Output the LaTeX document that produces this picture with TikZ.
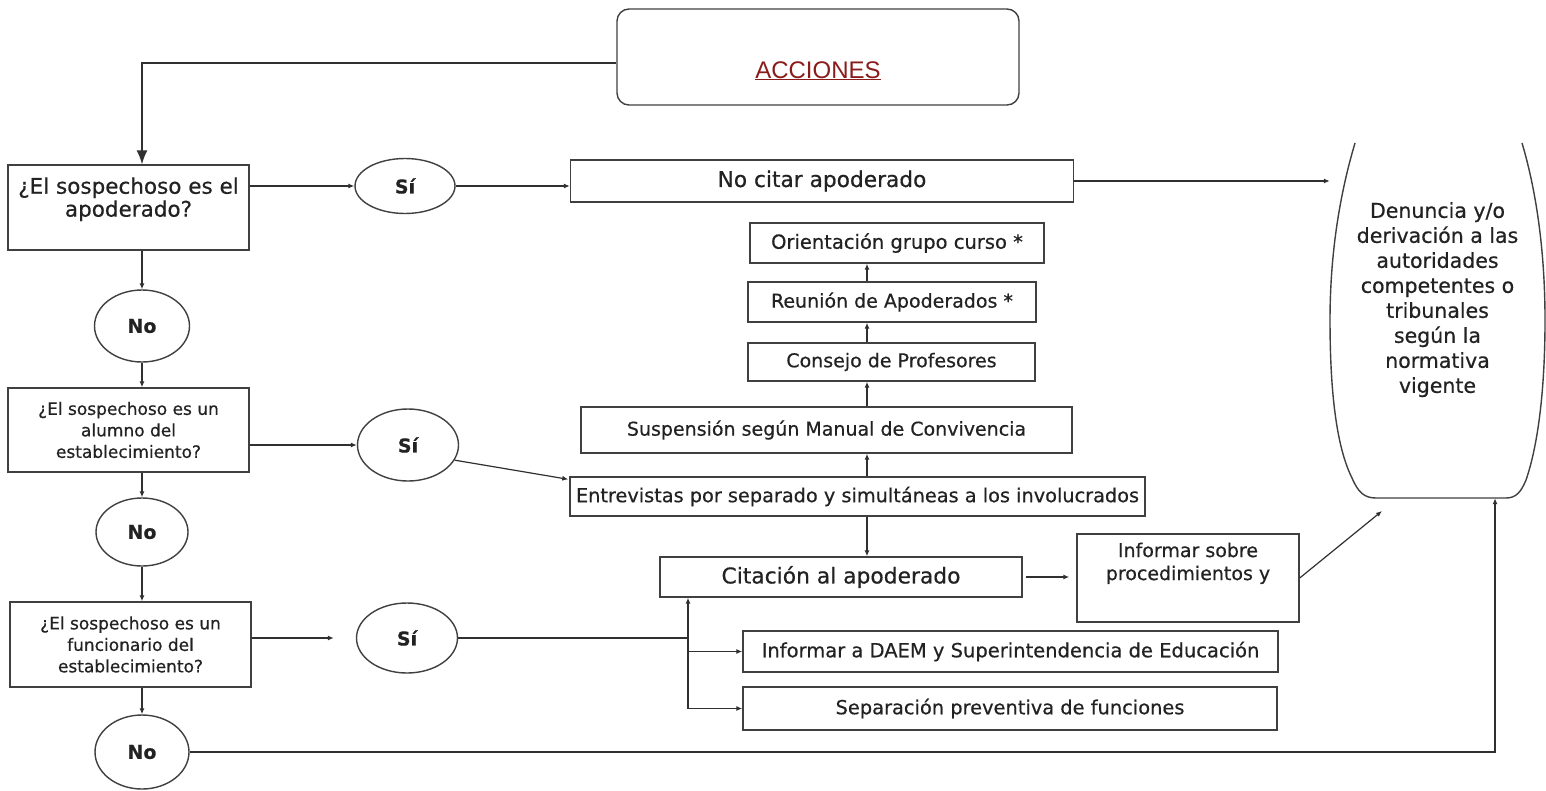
\documentclass[tikz,border=0pt]{standalone}
\usepackage{fontspec}
\setmainfont{DejaVu Sans}[FakeBold=0.5]
\newfontfamily\accfont{Liberation Sans}
\usetikzlibrary{shapes.geometric,arrows.meta,calc}
\definecolor{bcol}{HTML}{404040}
\definecolor{lcol}{HTML}{303030}
\definecolor{tcol}{HTML}{222222}
\definecolor{accred}{HTML}{8A1B1B}
\begin{document}
\begin{tikzpicture}[x=1pt,y=-1pt,
  box/.style={rectangle, draw=bcol, line width=1.4pt, inner sep=0pt, text=tcol, align=center, font=\fontsize{19}{23}\selectfont},
  oval/.style={ellipse, draw=bcol, line width=1.4pt, inner sep=0pt, text=tcol, font=\bfseries\fontsize{19}{23}\selectfont},
  arr/.style={draw=lcol, line width=1.2pt, -{Latex[length=6pt,width=5pt]}},
  ln/.style={draw=lcol, line width=1.2pt},
  bigarr/.style={draw=lcol, line width=1.4pt, -{Latex[length=14pt,width=11pt]}}]
\fill[white] (0,0) rectangle (1546,790);
\useasboundingbox (0,0) rectangle (1546,790);

\coordinate (colx) at (142,0);
\coordinate (colm) at (867,0);
\coordinate (colj) at (688,0);
\coordinate (colr) at (1495,0);
\coordinate (denin) at (1382,511);

% top
\node[box, rounded corners=12pt, minimum width=402pt, minimum height=96pt] (acc) at (818,57)
  {\raisebox{-21pt}[0pt][0pt]{\accfont\fontsize{24}{28}\selectfont\color{accred}\underline{ACCIONES}}};

% left column
\node[box, minimum width=241pt, minimum height=85pt] (q1) at (128.5,207.5)
  {\raisebox{2pt}[0pt][0pt]{\fontsize{21.5}{22}\selectfont\begin{tabular}{@{}c@{}}¿El sospechoso es el\\apoderado?\end{tabular}}};
\node[oval, minimum width=95pt, minimum height=72pt] (no1) at (142,326) {No};
\node[box, minimum width=241pt, minimum height=84pt, font=\fontsize{17}{21.5}\selectfont] (q2) at (128.5,430)
  {¿El sospechoso es un\\alumno del\\establecimiento?};
\node[oval, minimum width=92pt, minimum height=68pt] (no2) at (142,532) {No};
\node[box, minimum width=241pt, minimum height=85pt, font=\fontsize{17}{21.5}\selectfont] (q3) at (130.5,644.5)
  {¿El sospechoso es un\\funcionario del\\establecimiento?};
\node[oval, minimum width=94pt, minimum height=74pt] (no3) at (142,752) {No};

% Si ovals
\node[oval, minimum width=100pt, minimum height=55pt] (s1) at (405,186) {Sí};
\node[oval, minimum width=101pt, minimum height=72pt] (s2) at (408,445) {Sí};
\node[oval, minimum width=101pt, minimum height=70pt] (s3) at (407,638) {Sí};

% middle boxes
\node[box, minimum width=503pt, minimum height=42pt, font=\fontsize{21.7}{25}\selectfont] (nc) at (822,181) {No citar apoderado};
\node[box, minimum width=294pt, minimum height=40pt, font=\fontsize{19.5}{23}\selectfont] (ori) at (897,243) {Orientación grupo curso *};
\node[box, minimum width=288pt, minimum height=40pt] (reu) at (892,302) {Reunión de Apoderados *};
\node[box, minimum width=287pt, minimum height=38pt] (con) at (891.5,362) {Consejo de Profesores};
\node[box, minimum width=491pt, minimum height=46pt] (sus) at (826.5,430) {\raisebox{3pt}{Suspensión según Manual de Convivencia}};
\node[box, minimum width=575pt, minimum height=39pt, font=\fontsize{19.3}{23}\selectfont] (ent) at (857.5,496.5) {Entrevistas por separado y simultáneas a los involucrados};
\node[box, minimum width=362pt, minimum height=40pt, font=\fontsize{21.8}{25}\selectfont] (cit) at (841,577) {Citación al apoderado};
\node[box, minimum width=222pt, minimum height=88pt] (inf) at (1188,578)
  {\raisebox{9.75pt}[0pt][0pt]{\fontsize{19}{23}\selectfont\begin{tabular}{@{}c@{}}Informar sobre\\procedimientos y\end{tabular}}};
\node[box, minimum width=535pt, minimum height=41pt, font=\fontsize{19.5}{23}\selectfont] (daem) at (1010.5,651.5) {Informar a DAEM y Superintendencia de Educación};
\node[box, minimum width=534pt, minimum height=43pt, font=\fontsize{19.4}{23}\selectfont] (sep) at (1010,708.5) {Separación preventiva de funciones};

% right shape
\node[minimum width=215pt, minimum height=355pt, inner sep=0pt, text=tcol] (den) at (1437.5,320.5)
  {\raisebox{15pt}[0pt][0pt]{\fontsize{20.5}{25}\selectfont\begin{tabular}{@{}c@{}}Denuncia y/o\\derivación a las\\autoridades\\competentes o\\tribunales\\según la\\normativa\\vigente\end{tabular}}};
\draw[bcol, line width=1.4pt] (1355,143) .. controls (1338,200) and (1330,260) .. (1330,320)
  .. controls (1330,400) and (1338,450) .. (1352,478)
  .. controls (1358,492) and (1364,498) .. (1376,498) -- (1506,498)
  .. controls (1516,498) and (1521,492) .. (1526,480)
  .. controls (1538,445) and (1545,390) .. (1545,320)
  .. controls (1545,250) and (1536,190) .. (1522,143);

% connectors
\draw[bigarr] ([yshift=-6pt]acc.west) -| (q1.north -| colx);
\draw[arr] (q1.south -| colx) -- (no1.north);
\draw[arr] (no1.south) -- (q2.north -| colx);
\draw[arr] (q2.south -| colx) -- (no2.north);
\draw[arr] (no2.south) -- (q3.north -| colx);
\draw[arr] (q3.south -| colx) -- (no3.north);

\draw[arr] (q1.east |- s1.west) -- (s1.west);
\draw[arr] (s1.east) -- (s1.east -| nc.west);
\draw[arr] (nc.east) -- (nc.east -| den.west);

\draw[arr] (q2.east |- s2.west) -- (s2.west);
\draw[arr] (s2.-18) -- ($(ent.north west)+(-1,3)$);

\draw[arr, shorten >=22pt] (q3.east |- s3.west) -- (s3.west);
\draw[ln] (s3.east) -- (s3.east -| colj);
\draw[arr] (sep.west -| colj) -- (cit.south -| colj);
\draw[arr] (daem.west -| colj) -- (daem.west);
\draw[arr] (sep.west -| colj) -- (sep.west);

\draw[arr] (ent.north -| colm) -- (sus.south -| colm);
\draw[arr] (sus.north -| colm) -- (con.south -| colm);
\draw[arr] (con.north -| colm) -- (reu.south -| colm);
\draw[arr] (reu.north -| colm) -- (ori.south -| colm);
\draw[arr] (ent.south -| colm) -- (cit.north -| colm);

\draw[arr, shorten <=3pt, shorten >=7pt] (cit.east) -- (cit.east -| inf.west);
\draw[arr] (inf.east) -- (denin);
\draw[arr] (no3.east) -| (den.south -| colr);
\end{tikzpicture}
\end{document}
